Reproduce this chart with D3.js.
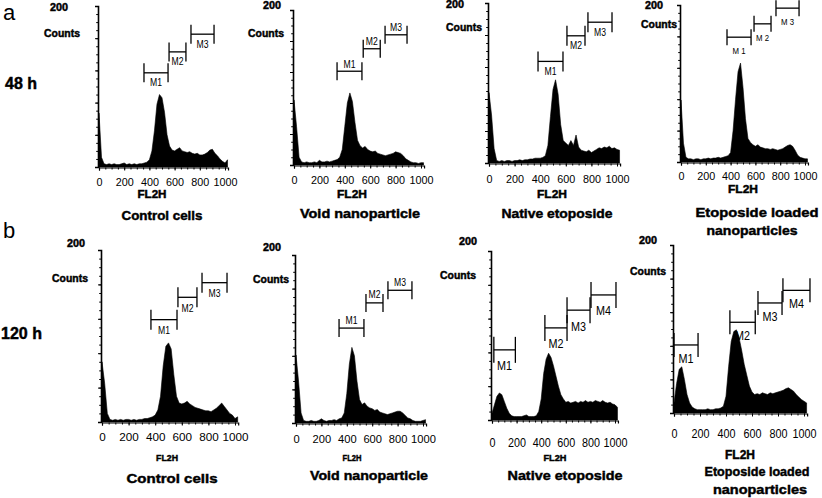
<!DOCTYPE html>
<html><head><meta charset="utf-8">
<script src="https://cdn.jsdelivr.net/npm/d3@7"></script>
<style>
body{margin:0;background:#fff}
svg{display:block}
text{font-family:"Liberation Sans",Arial,sans-serif;fill:#000}
.heavy{stroke:#000;stroke-width:0.45px}
</style>
</head><body>
<svg id="c" width="822" height="498"></svg>
<script>
// ---------- DATA ----------
const binsFL2H = [0,20,40,60,80,100,120,140,160,180,200,220,240,260,280,300,320,340,360,380,400,420,440,460,480,500,520,540,560,580,600,620,640,660,680,700,720,740,760,780,800,820,840,860,880,900,920,940,960,980,1000,1020];
const tickLabels = [0,200,400,600,800,1000];

const countsA1 = [67,12,4,3,4,3,4,3,3,4, 5,3,4,3,4,3,4,4,5,6, 9,20,45,78,90,86,68,40,26,21, 20,22,24,20,19,18,19,17,16,17, 15,15,16,18,21,22,17,14,10,7, 5,9];
const countsA2 = [84,50,10,4,3,4,3,3,4,3, 6,4,4,5,4,5,6,7,10,20, 50,80,93,82,55,32,25,22,24,20, 18,17,18,15,14,13,12,13,14,15, 17,16,15,12,8,6,4,3,3,2, 3,3];
const countsA3 = [88,60,18,3,2,3,2,3,3,2, 3,3,4,3,4,4,5,5,6,6, 6,7,9,22,58,92,104,86,48,28, 25,22,28,22,35,20,16,15,14,16, 13,15,17,19,18,20,19,21,18,19, 17,16];
const countsA4 = [79,24,6,4,4,3,4,4,3,4, 4,5,4,5,5,6,5,6,7,8, 12,40,80,115,126,95,55,30,25,22, 20,22,19,18,17,17,16,17,16,15, 16,17,19,21,22,20,15,9,6,5, 4,4];
const countsB1 = [70,45,10,3,2,3,2,3,2,3, 3,2,3,2,3,3,4,4,5,6, 8,14,30,65,88,92,85,55,30,22, 21,22,24,21,19,17,16,15,14,13, 13,12,14,16,19,22,18,14,10,8, 4,6];
const countsB2 = [81,50,12,3,2,2,3,2,2,3, 5,3,2,3,3,4,3,5,6,12, 35,70,90,80,50,28,22,24,20,18, 17,15,16,13,12,11,10,11,12,13, 14,14,12,9,6,5,3,2,2,2, 3,4];
const countsB3 = [8,18,28,32,30,22,14,8,5,4, 4,4,4,5,6,4,4,4,5,10, 25,55,72,79,74,64,52,40,30,25, 21,22,20,21,22,20,22,21,23,21, 22,21,23,22,21,23,21,20,21,19, 18,15];
const countsB4 = [12,35,52,55,40,22,12,7,5,4, 4,4,4,5,4,4,5,5,6,8, 20,55,85,97,99,90,75,58,45,32, 25,22,23,22,24,23,22,24,23,24, 25,26,27,29,30,28,26,22,19,16, 14,12];

// markers: [label, from FL2H, to FL2H, level in counts]
const markersA1 = [["M1",357,548,117],["M2",556,690,143],["M3",730,913,165]];
const markersA2 = [["M1",339,535,121],["M2",545,679,150],["M3",717,890,168]];
const markersA3 = [["M1",383,578,127],["M2",609,750,159],["M3",773,961,176]];
const markersA4 = [["M1",371,565,159],["M2",589,726,176],["M3",766,952,196]];
const markersB1 = [["M1",368,564,119],["M2",571,714,145],["M3",752,940,162]];
const markersB2 = [["M1",339,535,113],["M2",551,685,143],["M3",724,913,158]];
const markersB3 = [["M1",15,190,83],["M2",430,610,109],["M3",610,797,130],["M4",805,1008,148]];
const markersB4 = [["M1",0,185,81],["M2",430,625,108],["M3",646,831,131],["M4",838,1046,146]];

const titlesA = ["Control cells","Void nanoparticle","Native etoposide","Etoposide loaded|nanoparticles"];
const titlesB = ["Control cells","Void nanoparticle","Native etoposide","Etoposide loaded|nanoparticles"];

// ---------- LAYOUT ----------
const layout = [
 {counts:countsA1, markers:markersA1, title:titlesA[0], x0:99, x1000:225, yTop:6, yBase:167, tickDy:15, tickFs:10, tickCW:6,
  fl:[152,194,11,29], tpos:[[162,215,81]], tfs:13, l200:[59,7], cnt:[62,33], mkDy:10, mkH:9.5, mkFs:10, mkW:12},
 {counts:countsA2, markers:markersA2, title:titlesA[1], x0:294, x1000:421, yTop:10, yBase:165, tickDy:15, tickFs:10, tickCW:6,
  fl:[352,194,11,30], tpos:[[360,213,120]], tfs:13, l200:[272,5], cnt:[266,33], mkDy:-7, mkH:9, mkFs:10, mkW:12},
 {counts:countsA3, markers:markersA3, title:titlesA[2], x0:489, x1000:617, yTop:3, yBase:163, tickDy:16, tickFs:10, tickCW:6,
  fl:[552,194,11,30], tpos:[[557,213,111]], tfs:13, l200:[455,4], cnt:[464,27], mkDy:10, mkH:10, mkFs:10, mkW:12},
 {counts:countsA4, markers:markersA4, title:titlesA[3], x0:681, x1000:805, yTop:5, yBase:162, tickDy:14, tickFs:10, tickCW:6,
  fl:[743,189,11,30], tpos:[[757,212,123],[752,230,91]], tfs:13, l200:[654,5], cnt:[659,24], mkDy:14, mkH:8, mkFs:9, mkW:13, mono:true},
 {counts:countsB1, markers:markersB1, title:titlesB[0], x0:102, x1000:235, yTop:250, yBase:422, tickDy:15, tickFs:11, tickCW:6.5,
  fl:[167,458,9,22], tpos:[[172,478,91]], tfs:13, l200:[76,243], cnt:[70,278], mkDy:11, mkH:10, mkFs:10, mkW:12},
 {counts:countsB2, markers:markersB2, title:titlesB[1], x0:296, x1000:423, yTop:255, yBase:423, tickDy:16, tickFs:11, tickCW:6.2,
  fl:[352,458,9,19], tpos:[[369,475,118]], tfs:13, l200:[272,247], cnt:[271,279], mkDy:-8, mkH:9, mkFs:10, mkW:12},
 {counts:countsB3, markers:markersB3, title:titlesB[2], x0:492, x1000:615, yTop:251, yBase:420, tickDy:22, tickFs:13, tickCW:6,
  fl:[555,458,9,23], tpos:[[565,475,115]], tfs:13, l200:[468,241], cnt:[458,275], mkDy:16, mkH:13, mkFs:13, mkW:15},
 {counts:countsB4, markers:markersB4, title:titlesB[3], x0:674, x1000:804, yTop:245, yBase:413, tickDy:20, tickFs:13, tickCW:6,
  fl:[740,455,12,30], tpos:[[757,471,105],[760,489,94]], tfs:13, l200:[648,240], cnt:[648,271], mkDy:13, mkH:12, mkFs:13, mkW:15}
];

const svg = d3.select("#c");
svg.append("rect").attr("width",822).attr("height",498).attr("fill","#fff");

// row labels
svg.append("text").attr("x",3).attr("y",20).attr("font-size",22).text("a");
svg.append("text").attr("x",3).attr("y",238).attr("font-size",22).text("b");
svg.append("text").attr("class","heavy").attr("x",5).attr("y",89).attr("font-size",16).attr("font-weight","bold").attr("textLength",32).attr("lengthAdjust","spacingAndGlyphs").text("48 h");
svg.append("text").attr("class","heavy").attr("x",1).attr("y",339).attr("font-size",16).attr("font-weight","bold").attr("textLength",41).attr("lengthAdjust","spacingAndGlyphs").text("120 h");

layout.forEach(p => {
  const g = svg.append("g");
  const x = d3.scaleLinear().domain([0,1000]).range([p.x0, p.x1000]);
  const y = d3.scaleLinear().domain([0,200]).range([p.yBase, p.yTop]);

  // histogram
  const area = d3.area().x((d,i)=>x(binsFL2H[i])).y0(y(0)).y1(d=>y(d)).curve(d3.curveLinear);
  g.append("path").datum(p.counts).attr("d",area).attr("fill","#000").attr("stroke","#000").attr("stroke-width",0.6);

  // x axis
  const xAx = d3.scaleLinear().domain([0,1024]).range([x(0), x(1024)]);
  const gx = g.append("g").attr("transform",`translate(0,${p.yBase+0.5})`)
    .call(d3.axisBottom(xAx).tickValues(tickLabels).tickSize(3).tickFormat(d3.format("d")));
  gx.select(".domain").attr("stroke-width",1.2);
  gx.selectAll("text").attr("y",p.tickDy).attr("dy","0.35em").attr("font-size",p.tickFs)
    .attr("font-family","'Liberation Sans',Arial,sans-serif").attr("fill","#000")
    .each(function(d){ d3.select(this).attr("textLength", String(d).length*p.tickCW).attr("lengthAdjust","spacingAndGlyphs"); });
  g.append("g").attr("transform",`translate(0,${p.yBase+0.5})`)
    .call(d3.axisBottom(xAx).tickValues(d3.range(50,1024,50)).tickSize(2).tickFormat(""))
    .select(".domain").remove();

  // y axis
  const ax = p.x0 - 1;
  const gy = g.append("g").attr("transform",`translate(${ax},0)`)
    .call(d3.axisLeft(y).tickValues([0,40,80,120,160,200]).tickSize(3).tickFormat(""));
  gy.select(".domain").attr("stroke-width",1.6);
  g.append("g").attr("transform",`translate(${ax},0)`)
    .call(d3.axisLeft(y).tickValues(d3.range(0,201,10)).tickSize(1.8).tickFormat(""))
    .select(".domain").remove();

  // 200 / Counts labels
  g.append("text").attr("class","heavy").attr("x",p.l200[0]).attr("y",p.l200[1]).attr("dy","0.35em").attr("text-anchor","middle")
    .attr("font-size",10).attr("font-weight","bold").attr("textLength",18).attr("lengthAdjust","spacingAndGlyphs").text("200");
  g.append("text").attr("class","heavy").attr("x",p.cnt[0]).attr("y",p.cnt[1]).attr("dy","0.35em").attr("text-anchor","middle")
    .attr("font-size",10.5).attr("font-weight","bold").attr("textLength",36).attr("lengthAdjust","spacingAndGlyphs").text("Counts");

  // FL2H label
  g.append("text").attr("class","heavy").attr("x",p.fl[0]).attr("y",p.fl[1]).attr("dy","0.35em").attr("text-anchor","middle")
    .attr("font-size",p.fl[2]).attr("font-weight","bold").attr("textLength",p.fl[3]).attr("lengthAdjust","spacingAndGlyphs").text("FL2H");

  // title
  p.title.split("|").forEach((line,i)=>{
    const tp = p.tpos[i];
    g.append("text").attr("class","heavy").attr("x",tp[0]).attr("y",tp[1]).attr("dy","0.35em").attr("text-anchor","middle")
      .attr("font-size",p.tfs).attr("font-weight","bold").attr("textLength",tp[2]).attr("lengthAdjust","spacingAndGlyphs").text(line);
  });

  // markers
  p.markers.forEach(([lab,f,t,lvl])=>{
    const yy = y(lvl), xa = x(f), xb = x(t);
    const mg = g.append("g").attr("stroke","#000").attr("stroke-width",1.3);
    mg.append("line").attr("x1",xa).attr("x2",xb).attr("y1",yy).attr("y2",yy);
    mg.append("line").attr("x1",xa).attr("x2",xa).attr("y1",yy-p.mkH).attr("y2",yy+p.mkH);
    mg.append("line").attr("x1",xb).attr("x2",xb).attr("y1",yy-p.mkH).attr("y2",yy+p.mkH);
    g.append("text").attr("x",(xa+xb)/2).attr("y",yy+p.mkDy).attr("dy","0.35em").attr("text-anchor","middle")
      .attr("font-size",p.mkFs)
      .attr("font-family", p.mono ? "'DejaVu Sans Mono',monospace" : "'Liberation Sans',Arial,sans-serif")
      .attr("textLength",p.mkW).attr("lengthAdjust","spacingAndGlyphs").text(p.mono ? lab.replace("M","M ") : lab);
  });
});
</script>
</body></html>
